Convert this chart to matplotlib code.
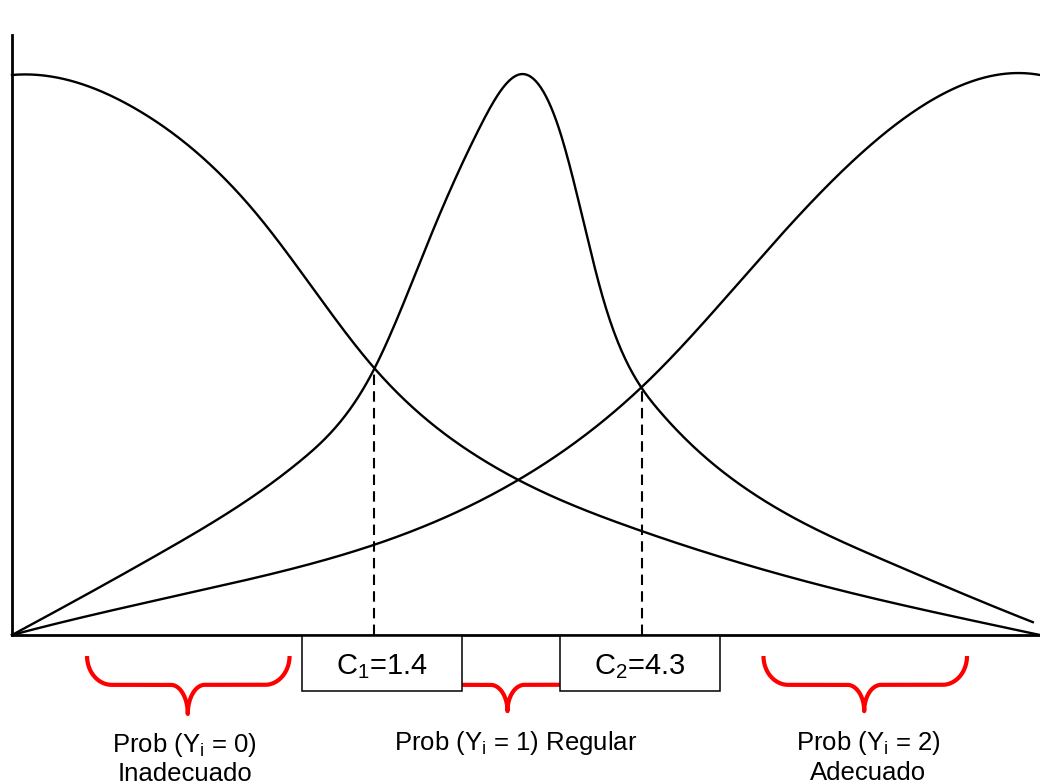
import numpy as np
import matplotlib
matplotlib.use("Agg")
import matplotlib.pyplot as plt
from matplotlib.patches import Rectangle

plt.rcParams['font.family'] = ['Liberation Sans', 'DejaVu Sans']
plt.rcParams['mathtext.default'] = 'regular'

# ---- data (schematic units: x 0..100, probability scaled so peak = 100) ----
p0_x = [0, 2.0, 5.4, 8.6, 11.8, 15.1, 18.3, 21.5, 24.8, 28.0, 31.2, 35.3, 37.7, 41.0,
        44.3, 49.1, 55.3, 61.3, 66.9, 76.7, 86.4, 92.9, 100]
p0_y = [100, 99.8, 99.1, 97.3, 94.3, 90.5, 85.4, 79.5, 72.9, 65.2, 58.0, 47.3, 42.5, 37.1,
        33.0, 28.2, 22.9, 18.4, 14.8, 10.0, 5.5, 2.7, 0]

p1_x = [0, 8.6, 18.3, 25.8, 28.0, 31.2, 33.6, 35.3, 37.7, 41.0, 44.3, 46.5, 48.2, 49.4,
        51.1, 52.6, 53.6, 55.0, 56.2, 57.9, 59.4, 61.3, 64.0, 66.6, 70.1, 76.7, 83.5, 91.2, 99.3]
p1_y = [0, 8.6, 18.8, 27.7, 30.9, 37.1, 42.0, 47.3, 58.0, 72.3, 86.1, 94.3, 98.6, 100,
        98.6, 93.8, 87.9, 78.9, 68.2, 58.0, 50.4, 44.1, 37.9, 33.0, 27.7, 20.5, 14.3, 8.4, 2.3]

p2_x = [0, 8.6, 18.3, 28.0, 35.1, 42.6, 49.4, 52.6, 55.9, 59.1, 61.3, 65.7, 68.9, 72.1,
        75.4, 77.9, 81.2, 84.4, 87.6, 91.0, 94.2, 97.4, 100]
p2_y = [0, 3.9, 8.0, 12.1, 16.1, 21.4, 27.7, 31.6, 36.1, 40.7, 44.1, 52.7, 59.3, 65.7,
        72.3, 77.7, 83.9, 88.9, 93.2, 96.8, 99.5, 100.4, 100]

cut_x = [35.2, 61.3]
cut_y = [47.3, 44.1]
cut_labels = [r'C$_{1}$=1.4', r'C$_{2}$=4.3']

group_labels = [r'Prob (Y$_{i}$ = 0)' + '\nInadecuado',
                r'Prob (Y$_{i}$ = 1) Regular',
                r'Prob (Y$_{i}$ = 2)' + '\nAdecuado']


def bspline_basis(x, inner, lo, hi, k=3):
    t = np.concatenate([[lo] * (k + 1), inner, [hi] * (k + 1)]).astype(float)
    x = np.asarray(x, float)
    nb = len(t) - 1
    B = np.zeros((len(x), nb))
    for i in range(nb):
        if t[i] < t[i + 1]:
            B[:, i] = (x >= t[i]) & (x < t[i + 1])
    last = np.max(np.nonzero(t[:-1] < t[1:])[0])
    B[x >= hi, :] = 0.0
    B[x >= hi, last] = 1.0
    for d in range(1, k + 1):
        m = B.shape[1] - 1
        Bn = np.zeros((len(x), m))
        for i in range(m):
            a = np.zeros(len(x)); b = np.zeros(len(x))
            if t[i + d] > t[i]:
                a = (x - t[i]) / (t[i + d] - t[i]) * B[:, i]
            if t[i + d + 1] > t[i + 1]:
                b = (t[i + d + 1] - x) / (t[i + d + 1] - t[i + 1]) * B[:, i + 1]
            Bn[:, i] = a + b
        B = Bn
    return B


def smooth_curve(xs, ys, inner, n=800):
    xs = np.asarray(xs, float); ys = np.asarray(ys, float)
    lo, hi = xs[0], xs[-1]
    A = bspline_basis(xs, inner, lo, hi)
    w = np.ones(len(xs)); w[0] = w[-1] = 20.0
    coef, *_ = np.linalg.lstsq(A * w[:, None], ys * w, rcond=None)
    xn = np.linspace(lo, hi, n)
    return xn, bspline_basis(xn, inner, lo, hi) @ coef


fig = plt.figure(figsize=(10.4, 7.84), dpi=100)
ax = fig.add_axes([12 / 1040, 149 / 784, 1028 / 1040, 600 / 784])
ax.set_xlim(0, 100)
ax.set_ylim(0, 107.14)
for s in ['top', 'right']:
    ax.spines[s].set_visible(False)
for s in ['left', 'bottom']:
    ax.spines[s].set_linewidth(2.0)
ax.set_xticks([]); ax.set_yticks([])

knots = [
    [12, 24, 35, 45, 60, 80],
    [15, 28, 35, 41, 45.5, 49.4, 53.3, 57.5, 63, 72, 85],
    [20, 35, 50, 62, 75, 88],
]
for (xs, ys), kn in zip([(p0_x, p0_y), (p1_x, p1_y), (p2_x, p2_y)], knots):
    xn, yn = smooth_curve(xs, ys, kn)
    ax.plot(xn, yn, color='black', lw=1.7, zorder=3, clip_on=False)

for cx, cy in zip(cut_x, cut_y):
    ax.plot([cx, cx], [0, cy], color='black', lw=1.5, ls=(0, (5, 3)), zorder=2)

# boxes with cut-point labels
box_centres = [36.0, 61.1]
box_w, box_top, box_bot = 15.5, -0.2, -10.0
for bc, lab in zip(box_centres, cut_labels):
    ax.add_patch(Rectangle((bc - box_w / 2, box_bot), box_w, box_top - box_bot,
                           facecolor='white', edgecolor='black', lw=1.1,
                           zorder=6, clip_on=False))
    ax.text(bc, -6.95, lab, ha='center', va='baseline', fontsize=21,
            zorder=7, clip_on=False)


def brace(x0, x1, xc, ytop, ymid, ytip, rx_e=2.4, rx_c=1.65):
    t = np.linspace(0, np.pi / 2, 40)
    ry_e = ytop - ymid; ry_c = ymid - ytip
    xs, ys = [], []
    a = np.pi + t
    xs += list(x0 + rx_e + rx_e * np.cos(a)); ys += list(ytop + ry_e * np.sin(a))
    a = np.pi / 2 - t
    xs += list(xc - rx_c + rx_c * np.cos(a)); ys += list(ytip + ry_c * np.sin(a))
    a = np.pi - t
    xs += list(xc + rx_c + rx_c * np.cos(a)); ys += list(ytip + ry_c * np.sin(a))
    a = 1.5 * np.pi + t
    xs += list(x1 - rx_e + rx_e * np.cos(a)); ys += list(ytop + ry_e * np.sin(a))
    ax.plot(xs, ys, color='#ff0000', lw=3.0, zorder=4, clip_on=False,
            solid_capstyle='butt', solid_joinstyle='round')


brace(7.3, 27.0, 17.1, -3.75, -8.9, -14.1)
brace(41.0, 56.0, 48.2, -3.75, -8.9, -13.6)
brace(73.1, 92.9, 82.9, -3.75, -8.9, -13.6)

# group labels
l0a, l0b = group_labels[0].split('\n')
l2a, l2b = group_labels[2].split('\n')
ax.text(16.8, -20.9, l0a, ha='center', va='baseline', fontsize=18.5, clip_on=False)
ax.text(16.8, -26.0, l0b, ha='center', va='baseline', fontsize=18.5, clip_on=False)
ax.text(49.0, -20.5, group_labels[1], ha='center', va='baseline', fontsize=18.5, clip_on=False)
ax.text(83.3, -20.5, l2a, ha='center', va='baseline', fontsize=18.5, clip_on=False)
ax.text(83.3, -25.9, l2b, ha='center', va='baseline', fontsize=18.5, clip_on=False)

fig.savefig('out.png', dpi=100, facecolor='white')
